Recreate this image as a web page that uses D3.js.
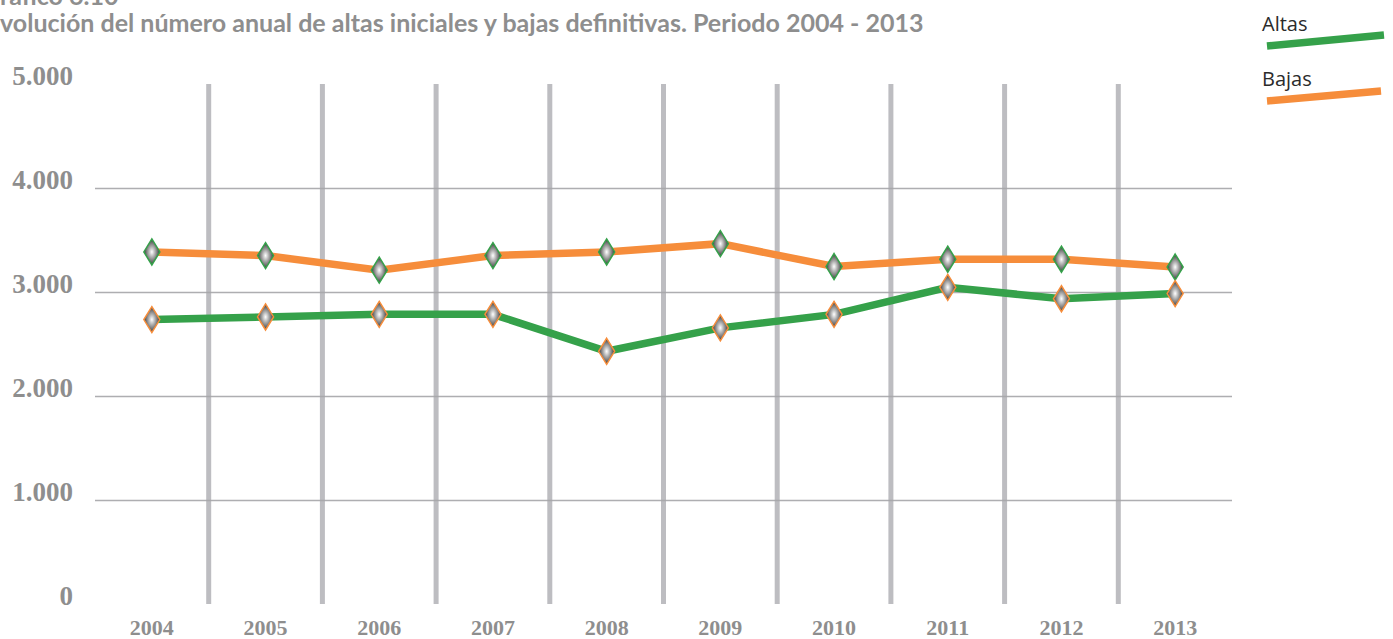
<!DOCTYPE html>
<html lang="es">
<head>
<meta charset="utf-8">
<title>Altas iniciales y bajas definitivas 2004-2013</title>
<script src="https://cdn.jsdelivr.net/npm/d3@7"></script>
<style>
  html, body { margin: 0; padding: 0; background: #ffffff; }
  svg { display: block; }
</style>
</head>
<body>
<svg id="chart" width="1393" height="639"></svg>
<script>
// Years on the horizontal axis
const years = ["2004", "2005", "2006", "2007", "2008", "2009", "2010", "2011", "2012", "2013"];
// Annual initial registrations (altas)
const altas = [2735, 2760, 2785, 2785, 2430, 2655, 2785, 3045, 2935, 2985];
// Annual definitive removals (bajas)
const bajas = [3385, 3350, 3210, 3350, 3385, 3465, 3245, 3315, 3315, 3240];
// Value-axis ticks and their printed labels
const yTicks = [0, 1000, 2000, 3000, 4000, 5000];
const yTickLabels = ["0", "1.000", "2.000", "3.000", "4.000", "5.000"];
// Series names for the legend
const seriesNames = ["Altas", "Bajas"];

const titleLine1 = "Gráfico 6.10";
const titleLine2 = "Evolución del número anual de altas iniciales y bajas definitivas. Periodo 2004 - 2013";

const GREEN = "#35a14a";
const ORANGE = "#f68d3b";
const LABEL_GREY = "#8e8e8e";

const svg = d3.select("#chart");

const plot = { left: 95, right: 1232, top: 84, bottom: 604 };

const x = d3.scaleBand().domain(years).range([plot.left, plot.right]).padding(0);
const y = d3.scaleLinear().domain([0, 5000]).range([plot.bottom, plot.top]);
const cx = d => x(d) + x.bandwidth() / 2;

// Marker fill: grey bead, bright in the middle, dark towards the tips
const defs = svg.append("defs");
const grad = defs.append("radialGradient")
  .attr("id", "bead").attr("cx", "50%").attr("cy", "50%").attr("r", "50%");
grad.append("stop").attr("offset", "0%").attr("stop-color", "#ffffff");
grad.append("stop").attr("offset", "35%").attr("stop-color", "#b9b9b9");
grad.append("stop").attr("offset", "75%").attr("stop-color", "#6a6a6a");
grad.append("stop").attr("offset", "100%").attr("stop-color", "#2a2a2a");

// Vertical separators between years
const separators = years.slice(1).map(yr => x(yr));
svg.append("g").selectAll("line").data(separators).join("line")
  .attr("x1", d => d).attr("x2", d => d)
  .attr("y1", y(5000)).attr("y2", y(0))
  .attr("stroke", "#bdbdc1").attr("stroke-width", 5);

// Horizontal gridlines (inner ticks only)
const yAxis = d3.axisLeft(y).tickValues(yTicks.filter(v => v > 0 && v < 5000))
  .tickSize(-(plot.right - plot.left)).tickFormat("");
const gGrid = svg.append("g").attr("transform", `translate(${plot.left},0)`).call(yAxis);
gGrid.select(".domain").remove();
gGrid.selectAll(".tick line").attr("stroke", "#a5a5a9").attr("stroke-width", 1.5).attr("stroke-opacity", 0.9);

// Value labels
svg.append("g").selectAll("text").data(yTicks).join("text")
  .attr("x", 73).attr("y", d => y(d) + 1)
  .attr("text-anchor", "end")
  .attr("font-family", "'Liberation Serif', 'DejaVu Serif', serif")
  .attr("font-weight", "bold").attr("font-size", 27)
  .attr("fill", LABEL_GREY)
  .text((d, i) => yTickLabels[i]);

// Year labels
const xAxis = d3.axisBottom(x).tickSize(0).tickPadding(0);
const gX = svg.append("g").attr("transform", `translate(0,${plot.bottom})`).call(xAxis);
gX.select(".domain").remove();
gX.selectAll(".tick text")
  .attr("y", 31).attr("dy", 0)
  .attr("font-family", "'Liberation Serif', 'DejaVu Serif', serif")
  .attr("font-weight", "bold").attr("font-size", 22)
  .attr("fill", LABEL_GREY);

// Series lines
const line = d3.line().x((d, i) => cx(years[i])).y(d => y(d));
const series = [
  { name: seriesNames[1], values: bajas, color: ORANGE, edge: GREEN },
  { name: seriesNames[0], values: altas, color: GREEN, edge: ORANGE }
];
series.forEach(s => {
  svg.append("path").datum(s.values)
    .attr("d", line).attr("fill", "none")
    .attr("stroke", s.color).attr("stroke-width", 7.5)
    .attr("stroke-linejoin", "miter");
});

// Diamond markers; each series is outlined with the other series' colour
const diamond = "M0,-13 L8,0 L0,13 L-8,0 Z";
series.forEach(s => {
  svg.append("g").selectAll("path").data(s.values).join("path")
    .attr("d", diamond)
    .attr("transform", (d, i) => `translate(${cx(years[i])},${y(d)})`)
    .attr("fill", "url(#bead)")
    .attr("stroke", s.edge).attr("stroke-width", 1.5);
});

// Title (left part runs off the page edge)
const titleFont = "'Lato', 'Open Sans', sans-serif";
const t2 = svg.append("text")
  .attr("y", 32)
  .attr("font-family", titleFont).attr("font-weight", "bold")
  .attr("font-size", 21).attr("fill", LABEL_GREY)
  .text(titleLine2);
{
  const total = t2.node().getComputedTextLength();
  const first = t2.node().getSubStringLength(0, 1);
  const size = 21 * 924 / (total - first);
  t2.attr("font-size", size);
  const f2 = t2.node().getSubStringLength(0, 1);
  t2.attr("x", -f2);
}
const t1 = svg.append("text")
  .attr("y", 5)
  .attr("font-family", titleFont).attr("font-weight", "bold")
  .attr("font-size", t2.attr("font-size")).attr("fill", LABEL_GREY)
  .text(titleLine1);
{
  const f1 = t1.node().getSubStringLength(0, 1);
  t1.attr("x", -f1);
}

// Legend
const legend = svg.append("g");
const legendItems = [
  { name: seriesNames[0], color: GREEN, ty: 31, x1: 1267, y1: 46, x2: 1384, y2: 35 },
  { name: seriesNames[1], color: ORANGE, ty: 86, x1: 1267, y1: 101, x2: 1381, y2: 91 }
];
legendItems.forEach(it => {
  legend.append("text")
    .attr("x", 1262).attr("y", it.ty)
    .attr("font-family", "'Open Sans', 'Lato', sans-serif")
    .attr("font-size", 20).attr("fill", "#2b2b2b")
    .text(it.name);
  legend.append("line")
    .attr("x1", it.x1).attr("y1", it.y1).attr("x2", it.x2).attr("y2", it.y2)
    .attr("stroke", it.color).attr("stroke-width", 7.5);
});
</script>
</body>
</html>
